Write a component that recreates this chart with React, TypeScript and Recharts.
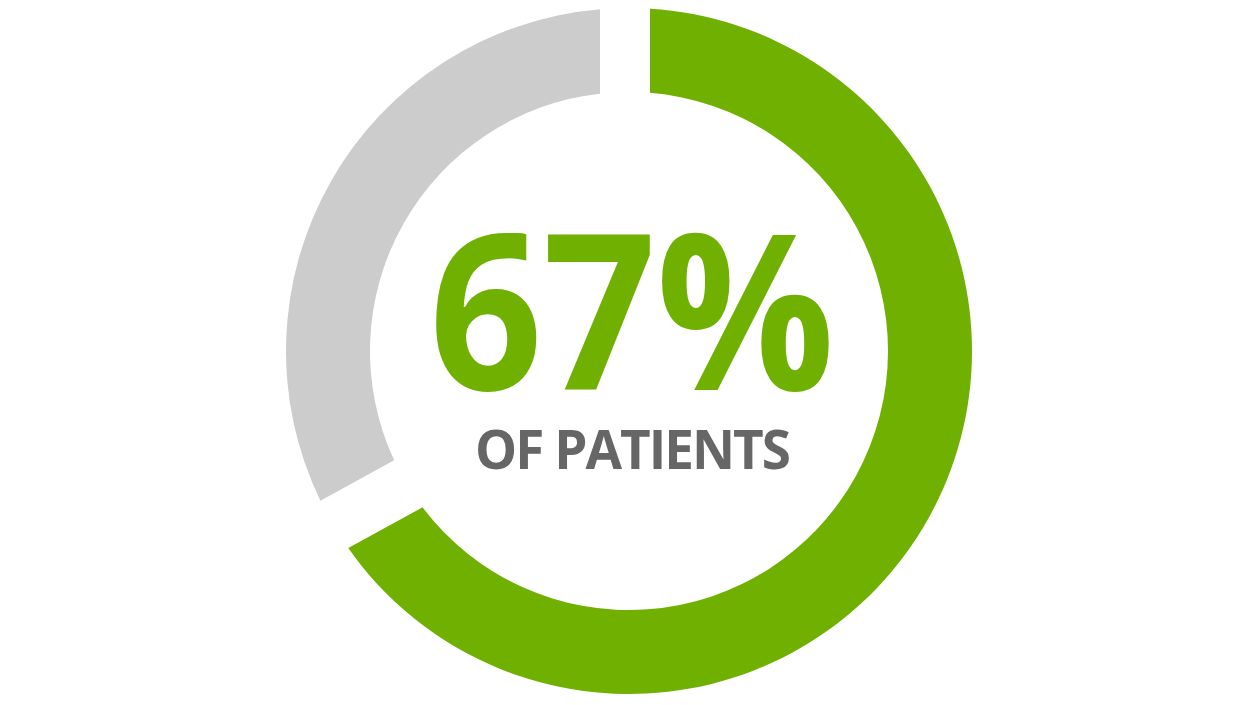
import React from "react";
import { PieChart, Pie, Cell, Label } from "recharts";

// share of patients vs. the rest
const names = ["Patients", "Others"];
const values = [67, 33];
const colors = ["#70B000", "#CCCCCC"];
const headline = "67%";
const caption = "OF PATIENTS";

const CX = 629;
const CY = 351;

// perpendicular offset (px) of each sector's [start, end] edge from its radial line,
// so the gaps have parallel sides like the original
const edgeGap: Record<string, [number, number]> = {
  Patients: [21, 37.5],
  Others: [17.5, 29],
};

const data = names.map((name, i) => ({ name, value: values[i] }));

function GapSector(props: any) {
  const { cx, cy, innerRadius, outerRadius, startAngle, endAngle, fill, payload, name } = props;
  const key = payload?.name ?? name;
  const [d0, d1] = edgeGap[key] ?? [25, 25];
  const s = endAngle < startAngle ? -1 : 1;
  const rad = Math.PI / 180;
  const pt = (r: number, a: number) => [cx + r * Math.cos(a * rad), cy - r * Math.sin(a * rad)];
  const adj = (d: number, r: number) => Math.asin(Math.min(1, d / r)) / rad;

  const aOs = startAngle + s * adj(d0, outerRadius);
  const aOe = endAngle - s * adj(d1, outerRadius);
  const aIs = startAngle + s * adj(d0, innerRadius);
  const aIe = endAngle - s * adj(d1, innerRadius);

  const [x0, y0] = pt(outerRadius, aOs);
  const [x1, y1] = pt(outerRadius, aOe);
  const [x2, y2] = pt(innerRadius, aIe);
  const [x3, y3] = pt(innerRadius, aIs);
  const bigO = Math.abs(aOe - aOs) > 180 ? 1 : 0;
  const bigI = Math.abs(aIe - aIs) > 180 ? 1 : 0;
  const sweep = s < 0 ? 1 : 0;

  const d =
    `M${x0},${y0} A${outerRadius},${outerRadius} 0 ${bigO} ${sweep} ${x1},${y1} ` +
    `L${x2},${y2} A${innerRadius},${innerRadius} 0 ${bigI} ${1 - sweep} ${x3},${y3} Z`;
  return <path d={d} fill={fill} stroke="none" />;
}

function CenterText() {
  return (
    <g>
      {/* the original face is a little narrower than Open Sans, so squeeze it a bit */}
      <g transform={`translate(${CX + 3}, ${CY + 39}) scale(0.91, 1)`}>
        <text
          x={0}
          y={0}
          textAnchor="middle"
          fill={colors[0]}
          fontFamily="'Open Sans', sans-serif"
          fontWeight={700}
          fontSize={218}
        >
          {headline}
        </text>
      </g>
      <text
        x={CX + 3}
        y={CY + 118}
        textAnchor="middle"
        fill="#666666"
        fontFamily="'Open Sans', sans-serif"
        fontWeight={700}
        fontSize={53}
        letterSpacing={-2}
      >
        {caption}
      </text>
    </g>
  );
}

export default function App() {
  return (
    <div style={{ position: "absolute", left: 0, top: 0, width: 1250, height: 705, background: "#fff" }}>
      <PieChart width={1250} height={705} margin={{ top: 0, right: 0, bottom: 0, left: 0 }}>
        <Pie
          data={data}
          dataKey="value"
          nameKey="name"
          cx={CX}
          cy={CY}
          innerRadius={259}
          outerRadius={343}
          startAngle={90}
          endAngle={-270}
          stroke="none"
          shape={GapSector}
          isAnimationActive={false}
        >
          {data.map((d, i) => (
            <Cell key={d.name} fill={colors[i]} />
          ))}
          <Label position="center" content={CenterText} />
        </Pie>
      </PieChart>
    </div>
  );
}
